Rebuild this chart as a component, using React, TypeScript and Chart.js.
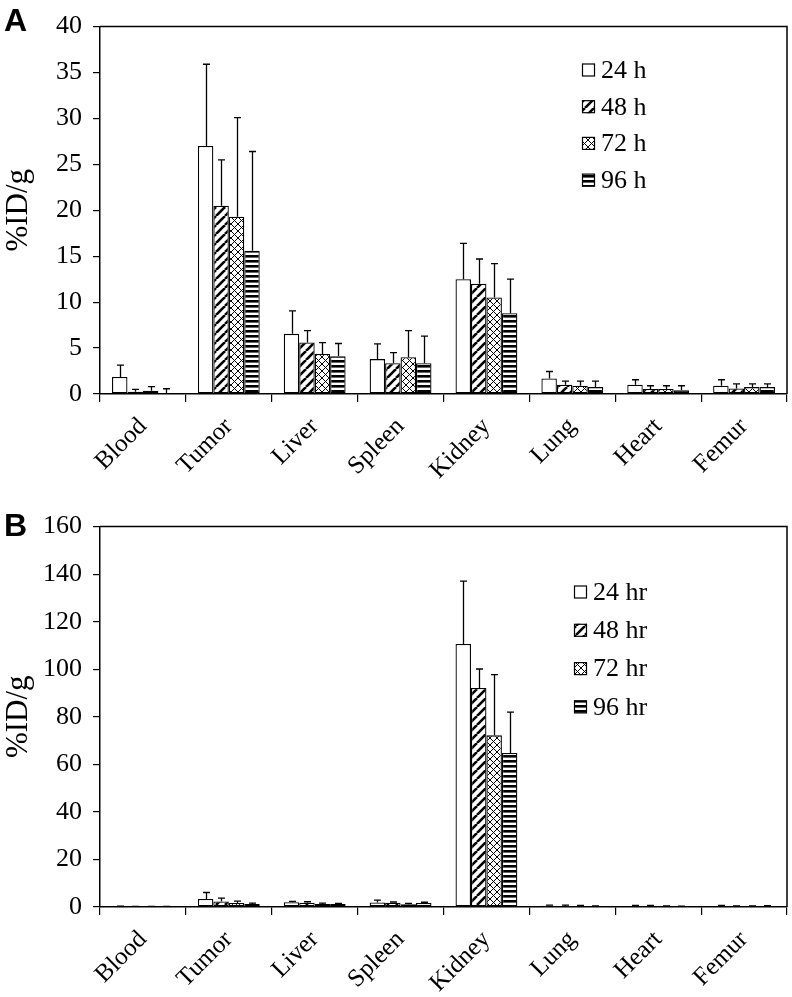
import React, { useEffect, useRef } from 'react';
import { Chart, registerables } from 'chart.js';
Chart.register(...registerables);

const categories = ['Blood', 'Tumor', 'Liver', 'Spleen', 'Kidney', 'Lung', 'Heart', 'Femur'];

// Panel A (%ID/g), means and SDs
const seriesLabelsA = ['24 h', '48 h', '72 h', '96 h'];
const a24 = [1.85, 27.0, 6.55, 3.8, 12.5, 1.7, 1.0, 0.9];
const a24sd = [1.3, 8.9, 2.5, 1.65, 3.9, 0.75, 0.55, 0.65];
const a48 = [0.25, 20.5, 5.6, 3.35, 12.0, 1.0, 0.55, 0.6];
const a48sd = [0.25, 5.0, 1.3, 1.15, 2.7, 0.4, 0.35, 0.5];
const a72 = [0.35, 19.3, 4.35, 4.0, 10.5, 0.9, 0.55, 0.75];
const a72sd = [0.45, 10.8, 1.25, 2.9, 3.7, 0.5, 0.35, 0.35];
const a96 = [0.12, 15.6, 4.1, 3.35, 8.8, 0.75, 0.4, 0.75];
const a96sd = [0.45, 10.8, 1.4, 2.95, 3.7, 0.65, 0.5, 0.35];
const yTicksA = [0, 5, 10, 15, 20, 25, 30, 35, 40];

// Panel B (%ID/g), means and SDs
const seriesLabelsB = ['24 hr', '48 hr', '72 hr', '96 hr'];
const b24 = [0.3, 3.4, 2.0, 1.9, 110.6, 0.5, 0.4, 0.4];
const b24sd = [0.1, 2.7, 0.4, 1.0, 26.5, 0.3, 0.3, 0.3];
const b48 = [0.2, 2.3, 1.8, 1.8, 92.1, 0.4, 0.3, 0.3];
const b48sd = [0.1, 1.4, 0.4, 0.3, 8.0, 0.4, 0.4, 0.2];
const b72 = [0.2, 1.7, 1.3, 1.2, 72.2, 0.4, 0.3, 0.3];
const b72sd = [0.1, 0.8, 0.3, 0.3, 25.5, 0.3, 0.2, 0.2];
const b96 = [0.2, 1.3, 1.3, 1.7, 64.8, 0.3, 0.2, 0.3];
const b96sd = [0.1, 0.3, 0.2, 0.3, 17.2, 0.2, 0.2, 0.3];
const yTicksB = [0, 20, 40, 60, 80, 100, 120, 140, 160];

const SERIF = '"Liberation Serif", "Times New Roman", serif';

function makePatterns(ctx: CanvasRenderingContext2D) {
  const mk = (w: number, h: number, draw: (g: CanvasRenderingContext2D, w: number, h: number) => void) => {
    const c = document.createElement('canvas');
    c.width = w;
    c.height = h;
    const g = c.getContext('2d')!;
    g.fillStyle = '#fff';
    g.fillRect(0, 0, w, h);
    g.strokeStyle = '#000';
    g.fillStyle = '#000';
    draw(g, w, h);
    return ctx.createPattern(c, 'repeat') as CanvasPattern;
  };
  const white = '#ffffff';
  const diag = mk(9, 9, (g, w) => {
    g.lineWidth = 2.6;
    for (const o of [-w, 0, w]) {
      g.beginPath();
      g.moveTo(o, w);
      g.lineTo(o + w, 0);
      g.stroke();
    }
  });
  const cross = mk(7, 7, (g, w) => {
    g.lineWidth = 1;
    for (const o of [-w, 0, w]) {
      g.beginPath();
      g.moveTo(o, w);
      g.lineTo(o + w, 0);
      g.stroke();
      g.beginPath();
      g.moveTo(o, 0);
      g.lineTo(o + w, w);
      g.stroke();
    }
  });
  const horiz = mk(5, 5, (g, w) => {
    g.fillRect(0, 0, w, 2.6);
  });
  return [white, diag, cross, horiz];
}

const errorBarPlugin = {
  id: 'errorBars',
  afterDatasetsDraw(chart: any) {
    const ctx = chart.ctx;
    const yScale = chart.scales.y;
    ctx.save();
    ctx.strokeStyle = '#000';
    ctx.lineWidth = 1.3;
    chart.data.datasets.forEach((ds: any, i: number) => {
      const meta = chart.getDatasetMeta(i);
      meta.data.forEach((el: any, j: number) => {
        const v = ds.data[j];
        const sd = ds.errors[j];
        const yTop = yScale.getPixelForValue(v);
        const yErr = yScale.getPixelForValue(v + sd);
        const x = Math.round(el.x) + 0.5;
        ctx.beginPath();
        ctx.moveTo(x, yTop);
        ctx.lineTo(x, yErr);
        ctx.moveTo(x - 3.5, yErr);
        ctx.lineTo(x + 3.5, yErr);
        ctx.stroke();
      });
    });
    ctx.restore();
  },
};

const framePlugin = {
  id: 'frame',
  afterDraw(chart: any, _args: any, opts: any) {
    const { ctx, chartArea } = chart;
    ctx.save();
    ctx.strokeStyle = '#000';
    ctx.lineWidth = 1.5;
    ctx.beginPath();
    ctx.moveTo(chartArea.left, chartArea.top);
    ctx.lineTo(chartArea.right, chartArea.top);
    ctx.lineTo(chartArea.right, chartArea.bottom);
    ctx.stroke();
    // panel letter
    ctx.fillStyle = '#000';
    ctx.font = 'bold 32px "Liberation Sans", Arial, sans-serif';
    ctx.textBaseline = 'alphabetic';
    ctx.textAlign = 'left';
    ctx.fillText(opts.letter, opts.letterX, opts.letterY);
    ctx.restore();
  },
};

const boxLegendPlugin = {
  id: 'boxLegend',
  afterDraw(chart: any, _args: any, opts: any) {
    const ctx = chart.ctx;
    ctx.save();
    ctx.font = `${opts.fontSize}px ${SERIF}`;
    ctx.textBaseline = 'middle';
    ctx.textAlign = 'left';
    chart.data.datasets.forEach((ds: any, i: number) => {
      const yc = opts.y + i * opts.dy;
      const s = opts.box;
      ctx.fillStyle = ds.backgroundColor;
      ctx.fillRect(opts.x, yc - s / 2, s, s);
      ctx.strokeStyle = '#000';
      ctx.lineWidth = 1.2;
      ctx.strokeRect(opts.x + 0.5, yc - s / 2 + 0.5, s - 1, s - 1);
      ctx.fillStyle = '#000';
      ctx.fillText(ds.label, opts.x + s + 6, yc + 1);
    });
    ctx.restore();
  },
};

type PanelProps = {
  width: number;
  height: number;
  letter: string;
  letterY: number;
  seriesLabels: string[];
  values: number[][];
  errors: number[][];
  yTicks: number[];
  padTop: number;
  xAxisH: number;
  legend: { x: number; y: number; dy: number };
};

function Panel(p: PanelProps) {
  const ref = useRef<HTMLCanvasElement | null>(null);
  useEffect(() => {
    const canvas = ref.current!;
    const ctx = canvas.getContext('2d')!;
    const patterns = makePatterns(ctx);
    const datasets = p.values.map((vals, i) => ({
      label: p.seriesLabels[i],
      data: vals,
      errors: p.errors[i],
      backgroundColor: patterns[i],
      borderColor: '#000',
      borderWidth: 1.3,
      borderSkipped: false,
      categoryPercentage: 0.72,
      barPercentage: 1.0,
    }));
    const step = p.yTicks[1] - p.yTicks[0];
    const chart = new Chart(canvas, {
      type: 'bar',
      data: { labels: categories, datasets: datasets as any },
      plugins: [errorBarPlugin, framePlugin, boxLegendPlugin],
      options: {
        responsive: false,
        animation: false,
        devicePixelRatio: 1,
        layout: { padding: { top: p.padTop, right: 5, left: 0, bottom: 0 } },
        plugins: {
          legend: { display: false },
          tooltip: { enabled: false },
          frame: { letter: p.letter, letterX: 4, letterY: p.letterY },
          boxLegend: { x: p.legend.x, y: p.legend.y, dy: p.legend.dy, box: 13, fontSize: 26 },
        } as any,
        scales: {
          x: {
            type: 'category',
            grid: {
              display: true,
              drawOnChartArea: false,
              drawTicks: true,
              tickLength: 8,
              color: '#000',
              lineWidth: 1.2,
              offset: true,
            },
            border: { display: true, color: '#000', width: 1.5 },
            ticks: {
              color: '#000',
              font: { family: SERIF, size: 25 },
              maxRotation: 45,
              minRotation: 45,
              autoSkip: false,
              padding: 10,
            },
            afterFit: (s: any) => {
              s.height = p.xAxisH;
            },
          },
          y: {
            min: p.yTicks[0],
            max: p.yTicks[p.yTicks.length - 1],
            grid: {
              display: true,
              drawOnChartArea: false,
              drawTicks: true,
              tickLength: 7,
              color: '#000',
              lineWidth: 1.2,
            },
            border: { display: true, color: '#000', width: 1.5 },
            ticks: {
              stepSize: step,
              color: '#000',
              font: { family: SERIF, size: 26 },
              padding: 11,
            },
            title: {
              display: true,
              text: '%ID/g',
              color: '#000',
              font: { family: SERIF, size: 31 },
              padding: { top: 0, bottom: 0 },
            },
            afterFit: (s: any) => {
              s.width = 100;
            },
          },
        },
      } as any,
    });
    return () => chart.destroy();
  }, []);
  return <canvas ref={ref} width={p.width} height={p.height} style={{ display: 'block' }} />;
}

export default function App() {
  return (
    <div style={{ position: 'absolute', left: 0, top: 0, width: 792, height: 997, background: '#fff' }}>
      <Panel
        width={792}
        height={500}
        letter="A"
        letterY={31}
        seriesLabels={seriesLabelsA}
        values={[a24, a48, a72, a96]}
        errors={[a24sd, a48sd, a72sd, a96sd]}
        yTicks={yTicksA}
        padTop={12}
        xAxisH={106}
        legend={{ x: 582, y: 70, dy: 36.7 }}
      />
      <Panel
        width={792}
        height={497}
        letter="B"
        letterY={36}
        seriesLabels={seriesLabelsB}
        values={[b24, b48, b72, b96]}
        errors={[b24sd, b48sd, b72sd, b96sd]}
        yTicks={yTicksB}
        padTop={15}
        xAxisH={90}
        legend={{ x: 574, y: 92, dy: 38.3 }}
      />
    </div>
  );
}
